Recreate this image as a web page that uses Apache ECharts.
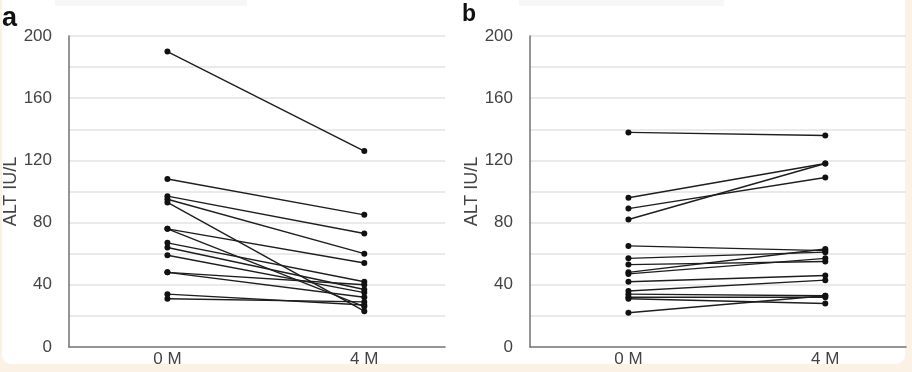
<!DOCTYPE html>
<html>
<head>
<meta charset="utf-8">
<script src="https://cdn.jsdelivr.net/npm/echarts@6/dist/echarts.min.js"></script>
<style>
  html, body { margin: 0; padding: 0; background: #fbf1e4; }
  #card { position: absolute; left: 2px; top: -12px; width: 903px; height: 376px; background: #ffffff; border-radius: 9px; }
  #chart { position: absolute; left: 0; top: 0; width: 912px; height: 372px; }
</style>
</head>
<body>
<div id="card"></div>
<div id="chart"></div>
<script>
// Timepoints (categories)
const timepoints = ['0 M', '4 M'];
// Y tick labels
const yTicks = [0, 40, 80, 120, 160, 200];
// Panel a: ALT at 0 M and 4 M for each subject
const a0M = [190, 108, 97, 95, 93, 76, 76, 67, 64, 59, 48, 48, 34, 31];
const a4M = [126, 85, 73, 60, 23, 54, 26, 42, 37, 35, 40, 32, 27, 29];
// Panel b: ALT at 0 M and 4 M for each subject
const b0M = [138, 96, 89, 82, 65, 57, 53, 48, 47, 42, 36, 34, 32, 31, 22];
const b4M = [136, 118, 109, 118, 62, 61, 55, 63, 57, 46, 43, 33, 32, 28, 33];

const chart = echarts.init(document.getElementById('chart'));
const font = 'Liberation Sans, Arial, sans-serif';

function xAxis(gi) {
  return {
    type: 'value', gridIndex: gi, min: -0.5, max: 1.41,
    axisLine: { show: true, onZero: false, lineStyle: { color: '#7a7a7a', width: 1.6 } },
    axisTick: { show: false },
    splitLine: { show: false },
    axisLabel: {
      customValues: [0, 1],
      formatter: v => timepoints[Math.round(v)],
      color: '#444', fontSize: 17, fontFamily: font, margin: 4
    }
  };
}
function yAxis(gi) {
  return {
    type: 'value', gridIndex: gi, min: 0, max: 200, interval: 20,
    name: 'ALT IU/L', nameLocation: 'middle', nameGap: 45, nameRotate: 90,
    nameTextStyle: { color: '#444', fontSize: 18, fontFamily: font },
    axisLine: { show: true, onZero: false, lineStyle: { color: '#7a7a7a', width: 1.6 } },
    axisTick: { show: false },
    splitLine: { show: true, lineStyle: { color: '#e3e3e3', width: 1.5 } },
    axisLabel: {
      formatter: v => (yTicks.indexOf(v) >= 0 ? String(v) : ''),
      color: '#444', fontSize: 17, fontFamily: font, margin: 17
    }
  };
}
function pairSeries(v0, v4, gi) {
  return v0.map((v, i) => ({
    type: 'line', xAxisIndex: gi, yAxisIndex: gi,
    data: [[0, v], [1, v4[i]]],
    symbol: 'circle', symbolSize: 6, showSymbol: true,
    lineStyle: { color: '#1e1e1e', width: 1.4 },
    itemStyle: { color: '#111' },
    emphasis: { disabled: true },
    animation: false, silent: true
  }));
}

chart.setOption({
  animation: false,
  grid: [
    { left: 69, right: 467, top: 36, bottom: 25 },
    { left: 530, right: 6, top: 36, bottom: 25 }
  ],
  xAxis: [xAxis(0), xAxis(1)],
  yAxis: [yAxis(0), yAxis(1)],
  series: [].concat(pairSeries(a0M, a4M, 0), pairSeries(b0M, b4M, 1)),
  graphic: [
    { type: 'rect', shape: { x: 55, y: -2, width: 192, height: 8 }, style: { fill: '#f7f7f7' } },
    { type: 'rect', shape: { x: 519, y: -2, width: 205, height: 8 }, style: { fill: '#f7f7f7' } },
    { type: 'text', left: 2, top: 5, style: { text: 'a', font: 'bold 27px ' + font, fill: '#111' } },
    { type: 'text', left: 462, top: 3, style: { text: 'b', font: 'bold 23px ' + font, fill: '#111' } }
  ]
});
</script>
</body>
</html>
